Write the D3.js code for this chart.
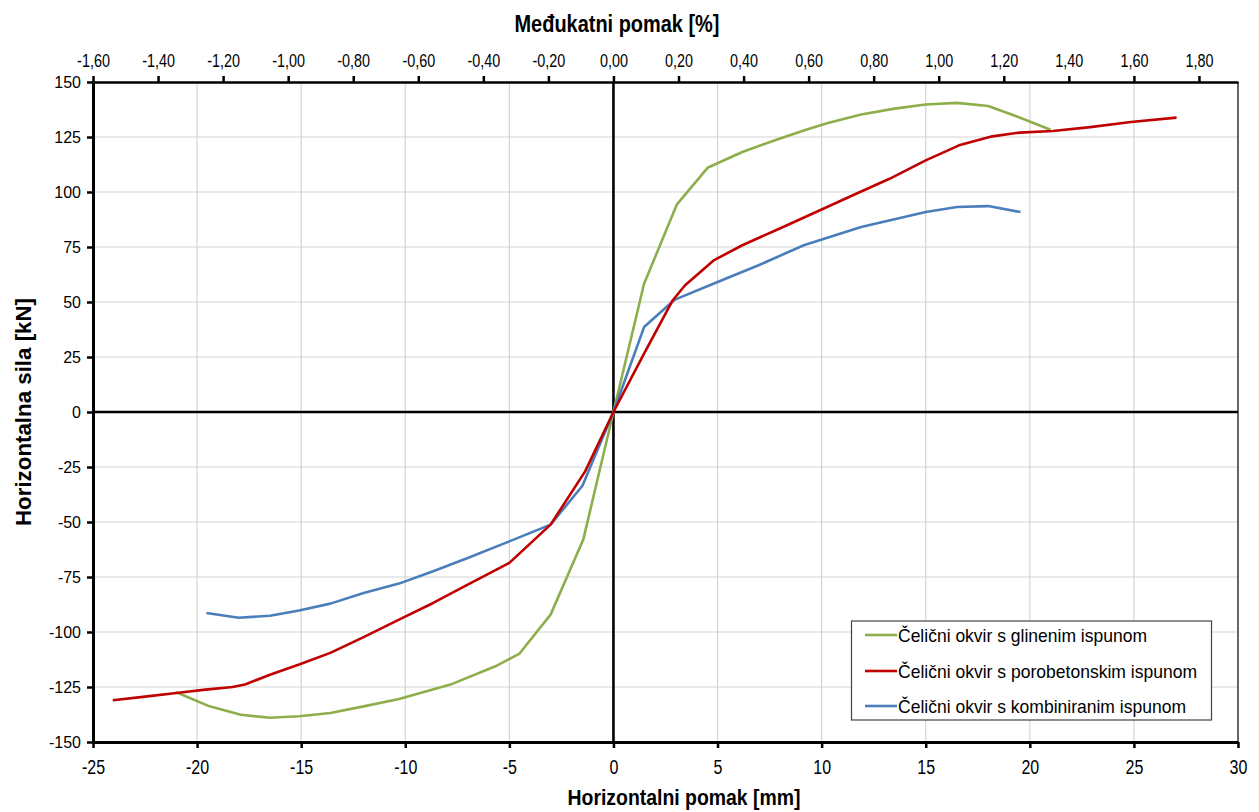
<!DOCTYPE html>
<html>
<head>
<meta charset="utf-8">
<script src="https://cdn.jsdelivr.net/npm/d3@7"></script>
<style>
  html, body { margin: 0; padding: 0; background: #fff; }
  svg { display: block; }
  text { font-family: "Liberation Sans", Arial, sans-serif; }
</style>
</head>
<body>
<svg id="chart" width="1259" height="812"></svg>
<script>
// ---------------- data ----------------
const seriesNames = [
  "Čelični okvir s glinenim ispunom",
  "Čelični okvir s porobetonskim ispunom",
  "Čelični okvir s kombiniranim ispunom"
];
const seriesColors = ["#8DAE4B", "#C00000", "#4A7EBB"];

const glineniX = [-21.0,-19.4,-17.9,-16.5,-15.1,-13.6,-12.0,-10.3,-7.83,-5.67,-4.51,-3.02,-1.45,0,1.47,3.05,4.52,6.19,7.76,9.14,10.3,11.9,13.5,15.0,16.5,18.0,19.35,21.0];
const glineniY = [-127.4,-133.8,-137.6,-139,-138.3,-136.8,-133.8,-130.5,-123.9,-115.6,-109.8,-92.1,-58,0,58.3,94.4,111,118.2,123.5,128,131.4,135.2,137.9,139.8,140.5,139.1,134.4,128.3];

const porobetonX = [-24.05,-22.6,-21.0,-19.6,-18.3,-17.7,-16.5,-15.1,-13.6,-12.0,-10.3,-8.66,-7.0,-5.0,-3.02,-1.36,0,1.47,2.85,3.44,4.81,6.19,8.15,9.92,11.5,13.26,15.0,16.6,18.2,19.5,21.1,22.9,24.85,27.05];
const porobetonY = [-131,-129.5,-127.7,-126.2,-125,-123.9,-119.4,-114.8,-109.5,-102.3,-94.4,-86.8,-78.5,-68.6,-51.2,-27,0,26.5,50.8,57.6,68.9,75.8,84.1,91.7,98.5,106,114.4,121.2,125.3,127,127.7,129.5,131.8,133.8];

const kombiniraniX = [-19.55,-18.0,-16.5,-15.1,-13.6,-12.0,-10.3,-8.66,-7.0,-5.0,-3.02,-1.49,0,1.47,2.95,5.0,6.97,9.14,11.9,15.0,16.5,18.0,19.55];
const kombiniraniY = [-91.4,-93.5,-92.6,-90.2,-87.1,-82.3,-78,-72.4,-66.4,-58.8,-51.2,-33.5,0,38.6,51.1,59.1,66.7,75.8,84.1,90.9,93.2,93.6,90.9];

const xTicks = [-25,-20,-15,-10,-5,0,5,10,15,20,25,30];
const yTicks = [-150,-125,-100,-75,-50,-25,0,25,50,75,100,125,150];
const topTicks = [-1.6,-1.4,-1.2,-1.0,-0.8,-0.6,-0.4,-0.2,0,0.2,0.4,0.6,0.8,1.0,1.2,1.4,1.6,1.8];
const mmPerPercent = 15.625;

const xTitle = "Horizontalni pomak [mm]";
const yTitle = "Horizontalna sila [kN]";
const topTitle = "Međukatni pomak [%]";

// ---------------- layout ----------------
const svg = d3.select("#chart");
const L = 93, R = 1238, T = 82, B = 742;
const NARROW = 0.8;

const x = d3.scaleLinear().domain([-25, 30]).range([L, R]);
const y = d3.scaleLinear().domain([-150, 150]).range([B, T]);
const xTop = d3.scaleLinear().domain([-25 / mmPerPercent, 30 / mmPerPercent]).range([L, R]);

const fmtComma = d => d3.format(".2f")(d).replace(".", ",").replace("−", "-");

// gridlines
const grid = svg.append("g");
grid.selectAll("line.v").data(xTicks.filter(d => d !== 0 && d !== -25 && d !== 30)).join("line")
  .attr("x1", d => x(d)).attr("x2", d => x(d)).attr("y1", T).attr("y2", B)
  .attr("stroke", "#d4d4d4").attr("stroke-width", 1.2);
grid.selectAll("line.h").data(yTicks.filter(d => d !== 0 && Math.abs(d) !== 150)).join("line")
  .attr("x1", L).attr("x2", R).attr("y1", d => y(d)).attr("y2", d => y(d))
  .attr("stroke", "#d4d4d4").attr("stroke-width", 1.2);

// right border
svg.append("line").attr("x1", R).attr("x2", R).attr("y1", T).attr("y2", B)
  .attr("stroke", "#333").attr("stroke-width", 1.5);

// zero lines
svg.append("line").attr("x1", L).attr("x2", R).attr("y1", y(0)).attr("y2", y(0))
  .attr("stroke", "#000").attr("stroke-width", 2.6);
svg.append("line").attr("x1", x(0)).attr("x2", x(0)).attr("y1", T).attr("y2", B)
  .attr("stroke", "#000").attr("stroke-width", 2.6);

// series
const series = [
  { name: seriesNames[0], color: seriesColors[0], xs: glineniX, ys: glineniY },
  { name: seriesNames[1], color: seriesColors[1], xs: porobetonX, ys: porobetonY },
  { name: seriesNames[2], color: seriesColors[2], xs: kombiniraniX, ys: kombiniraniY }
];
const line = d3.line().x(d => x(d[0])).y(d => y(d[1])).curve(d3.curveLinear);
const drawOrder = [0, 2, 1];
drawOrder.forEach(i => {
  const s = series[i];
  svg.append("path")
    .datum(s.xs.map((v, k) => [v, s.ys[k]]))
    .attr("fill", "none").attr("stroke", s.color).attr("stroke-width", 2.6)
    .attr("stroke-linejoin", "round").attr("stroke-linecap", "butt")
    .attr("d", line);
});

// axes
const axB = svg.append("g").attr("transform", `translate(0,${B})`)
  .call(d3.axisBottom(x).tickValues(xTicks).tickSize(6).tickSizeOuter(0).tickPadding(12).tickFormat(d => String(d)));
const axL = svg.append("g").attr("transform", `translate(${L},0)`)
  .call(d3.axisLeft(y).tickValues(yTicks).tickSize(6).tickSizeOuter(0).tickPadding(6).tickFormat(d => String(d)));
const axT = svg.append("g").attr("transform", `translate(0,${T})`)
  .call(d3.axisTop(xTop).tickValues(topTicks).tickSize(6).tickSizeOuter(0).tickPadding(9).tickFormat(fmtComma));

[axB, axL, axT].forEach(a => {
  a.attr("font-family", null);
  a.select(".domain").attr("stroke", "#000").attr("stroke-width", 3);
  a.selectAll(".tick line").attr("stroke", "#000").attr("stroke-width", 2.5);
  a.selectAll(".tick text").attr("fill", "#000");
});
axT.select(".domain").attr("stroke-width", 2.6);
axB.selectAll(".tick text").attr("font-size", 20).attr("transform", `scale(${NARROW},1)`);
axT.selectAll(".tick text").attr("font-size", 18).attr("transform", `scale(${NARROW},1)`);
axL.selectAll(".tick text").attr("font-size", 16);

// titles (condensed bold)
function narrowText(sel, txt, cx, cy, len, size, rotate) {
  const t = sel.append("text")
    .attr("transform", `translate(${cx},${cy})` + (rotate ? ` rotate(${rotate})` : ""))
    .attr("text-anchor", "middle").attr("font-weight", "bold").attr("font-size", size)
    .attr("textLength", len).attr("lengthAdjust", "spacingAndGlyphs")
    .attr("fill", "#000").text(txt);
  return t;
}
narrowText(svg, xTitle, 684, 805, 233, 22, 0);
narrowText(svg, topTitle, 617, 32, 205, 23, 0);
narrowText(svg, yTitle, 31, 412, 228, 22, -90);

// legend
const lg = svg.append("g");
lg.append("rect").attr("x", 851.5).attr("y", 621).attr("width", 360).attr("height", 99)
  .attr("fill", "#fff").attr("stroke", "#444").attr("stroke-width", 1.2);
const rowsY = [635, 671, 706];
const legendLens = [249, 299, 288];
series.forEach((s, i) => {
  lg.append("line").attr("x1", 865).attr("x2", 897).attr("y1", rowsY[i]).attr("y2", rowsY[i])
    .attr("stroke", s.color).attr("stroke-width", 2.6);
  lg.append("text").attr("x", 898).attr("y", rowsY[i])
    .attr("dy", "0.35em").attr("font-size", 19).attr("fill", "#000")
    .attr("textLength", legendLens[i]).attr("lengthAdjust", "spacingAndGlyphs")
    .text(s.name);
});
</script>
</body>
</html>
